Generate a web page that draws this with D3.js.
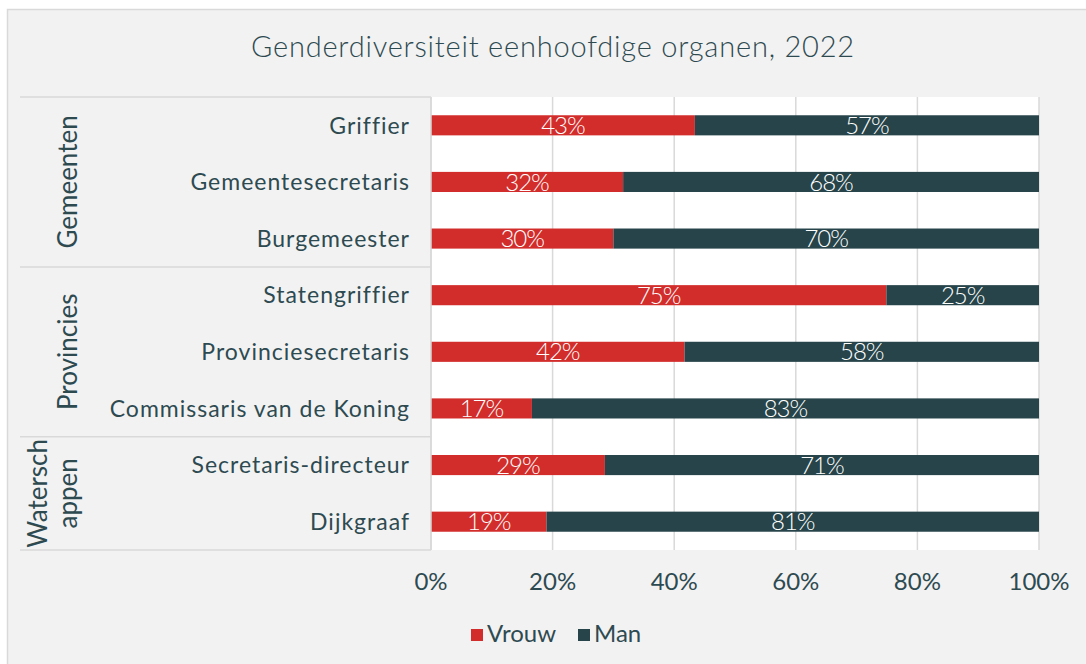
<!DOCTYPE html>
<html>
<head>
<meta charset="utf-8">
<script src="https://cdn.jsdelivr.net/npm/d3@7"></script>
<style>
  body { margin: 0; background: #ffffff; }
  text { font-family: Lato, "Open Sans", sans-serif; }
</style>
</head>
<body>
<div id="chart"></div>
<script>
// data
var categories = ["Griffier", "Gemeentesecretaris", "Burgemeester",
  "Statengriffier", "Provinciesecretaris", "Commissaris van de Koning",
  "Secretaris-directeur", "Dijkgraaf"];
var vrouw = [0.434, 0.316, 0.30, 0.749, 0.417, 0.166, 0.286, 0.19];
var man = [0.566, 0.684, 0.70, 0.251, 0.583, 0.834, 0.714, 0.81];
var groups = [["Gemeenten"], ["Provincies"], ["Watersch", "appen"]];
var groupSizes = [3, 3, 2];
var seriesNames = ["Vrouw", "Man"];
var ticks = [0, 0.2, 0.4, 0.6, 0.8, 1];

var width = 1086, height = 664;
var colors = { Vrouw: "#d22c2b", Man: "#264449" };
var textColor = "#2e4a51";
var gridColor = "#d9d9d9";

var margin = { top: 97, left: 431, right: 47, bottom: 114 };

var svg = d3.select("#chart").append("svg")
  .attr("width", width)
  .attr("height", height);

// outer panel
svg.append("rect")
  .attr("x", 7.5).attr("y", 9.5)
  .attr("width", width + 10).attr("height", height + 10)
  .attr("fill", "#f2f2f2")
  .attr("stroke", "#d9d9d9")
  .attr("stroke-width", 1.5);

svg.append("text")
  .attr("x", 553).attr("y", 57)
  .attr("text-anchor", "middle")
  .attr("fill", textColor)
  .style("font-size", "29px")
  .style("font-weight", 300)
  .style("letter-spacing", "0.8px")
  .text("Genderdiversiteit eenhoofdige organen, 2022");

var x = d3.scaleLinear()
  .domain([0, 1])
  .range([margin.left, width - margin.right]);

var y = d3.scaleBand()
  .domain(categories)
  .range([margin.top, height - margin.bottom])
  .paddingInner(0.645)
  .paddingOuter(0.3225);

// white plot area
svg.append("rect")
  .attr("x", x(0)).attr("y", margin.top)
  .attr("width", x(1) - x(0))
  .attr("height", height - margin.bottom - margin.top)
  .attr("fill", "#ffffff");

// gridlines
svg.append("g")
  .selectAll("line")
  .data(ticks)
  .enter().append("line")
  .attr("x1", function(d) { return x(d); })
  .attr("x2", function(d) { return x(d); })
  .attr("y1", margin.top)
  .attr("y2", height - margin.bottom)
  .attr("stroke", gridColor)
  .attr("stroke-width", 1.5);

// stacked bars
var stackData = categories.map(function(c, i) {
  return { name: c, Vrouw: vrouw[i], Man: man[i] };
});
var stack = d3.stack().keys(seriesNames)(stackData);

var layers = svg.append("g").selectAll("g")
  .data(stack)
  .enter().append("g")
  .attr("fill", function(d) { return colors[d.key]; });

layers.selectAll("rect")
  .data(function(d) { return d; })
  .enter().append("rect")
  .attr("x", function(d) { return x(d[0]); })
  .attr("y", function(d) { return y(d.data.name); })
  .attr("width", function(d) { return x(d[1]) - x(d[0]); })
  .attr("height", y.bandwidth());

var fmt = d3.format(".0%");
layers.selectAll("text")
  .data(function(d) { return d; })
  .enter().append("text")
  .attr("x", function(d) { return (x(d[0]) + x(d[1])) / 2; })
  .attr("y", function(d) { return y(d.data.name) + y.bandwidth() / 2; })
  .attr("dy", "0.36em")
  .attr("text-anchor", "middle")
  .attr("fill", "#ffffff")
  .style("font-size", "24px")
  .style("font-weight", 300)
  .style("letter-spacing", "-1px")
  .text(function(d) { return fmt(d[1] - d[0]); });

// category labels
svg.append("g")
  .selectAll("text")
  .data(categories)
  .enter().append("text")
  .attr("x", margin.left - 21)
  .attr("y", function(d) { return y(d) + y.bandwidth() / 2; })
  .attr("dy", "0.36em")
  .attr("text-anchor", "end")
  .attr("fill", textColor)
  .style("font-size", "23px")
  .style("letter-spacing", "1px")
  .text(function(d) { return d; });

// group separators and labels
var step = y.step();
var bounds = [0];
groupSizes.forEach(function(s, i) { bounds.push(bounds[i] + s); });

svg.append("g")
  .selectAll("line")
  .data(bounds)
  .enter().append("line")
  .attr("x1", 20).attr("x2", margin.left)
  .attr("y1", function(d) { return margin.top + d * step; })
  .attr("y2", function(d) { return margin.top + d * step; })
  .attr("stroke", gridColor)
  .attr("stroke-width", 1.5);

svg.append("line")
  .attr("x1", margin.left).attr("x2", margin.left)
  .attr("y1", margin.top).attr("y2", height - margin.bottom)
  .attr("stroke", gridColor)
  .attr("stroke-width", 1.5);

var groupLabels = svg.append("g").selectAll("text")
  .data(groups)
  .enter().append("text")
  .attr("transform", function(d, i) {
    var cy = margin.top + (bounds[i] + bounds[i + 1]) / 2 * step;
    return "translate(77," + cy + ") rotate(-90)";
  })
  .attr("text-anchor", "middle")
  .attr("fill", textColor)
  .style("font-size", "26px");

groupLabels.selectAll("tspan")
  .data(function(d) { return d.map(function(t, j) { return { t: t, j: j, n: d.length }; }); })
  .enter().append("tspan")
  .attr("x", 0)
  .attr("y", function(d) { return (d.j - (d.n - 1)) * 30; })
  .text(function(d) { return d.t; });

// x axis tick labels
svg.append("g")
  .selectAll("text")
  .data(ticks)
  .enter().append("text")
  .attr("x", function(d) { return x(d); })
  .attr("y", 590)
  .attr("text-anchor", "middle")
  .attr("fill", textColor)
  .style("font-size", "24px")
  .text(function(d) { return fmt(d); });

// legend
var legend = svg.append("g").selectAll("g")
  .data(seriesNames)
  .enter().append("g")
  .attr("transform", function(d, i) { return "translate(" + (471 + i * 107) + ",642)"; });

legend.append("rect")
  .attr("x", 0).attr("y", -13)
  .attr("width", 12).attr("height", 12)
  .attr("fill", function(d) { return colors[d]; });

legend.append("text")
  .attr("x", 16).attr("y", 0)
  .attr("fill", textColor)
  .style("font-size", "24px")
  .text(function(d) { return d; });
</script>
</body>
</html>
